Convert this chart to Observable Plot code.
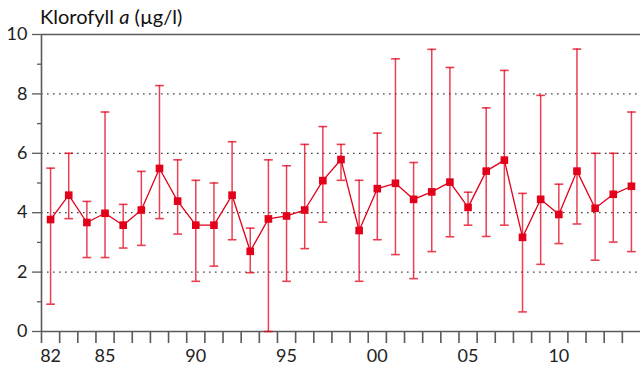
<!DOCTYPE html>
<html>
<head>
<meta charset="utf-8">
<script src="https://cdn.jsdelivr.net/npm/d3@7"></script>
<script src="https://cdn.jsdelivr.net/npm/@observablehq/plot@0.6"></script>
<style>
  html, body { margin: 0; padding: 0; background: #fff; }
  #chart svg { display: block; }
</style>
</head>
<body>
<div id="chart"></div>
<script>
const years = d3.range(1982, 2015);
const means = [3.77, 4.59, 3.67, 3.98, 3.58, 4.09, 5.49, 4.39, 3.58, 3.58,
               4.59, 2.70, 3.79, 3.89, 4.09, 5.08, 5.79, 3.40, 4.81, 4.99,
               4.45, 4.70, 5.03, 4.18, 5.40, 5.77, 3.17, 4.45, 3.94, 5.40,
               4.15, 4.62, 4.89];
const upper = [5.50, 6.00, 4.38, 7.39, 4.28, 5.39, 8.28, 5.78, 5.09, 5.00,
               6.39, 3.48, 5.78, 5.58, 6.30, 6.90, 6.30, 5.09, 6.68, 9.18,
               5.69, 9.50, 8.89, 4.69, 7.53, 8.79, 4.65, 7.95, 4.96, 9.51,
               6.00, 6.00, 7.39];
const lower = [0.92, 3.80, 2.49, 2.49, 2.81, 2.90, 3.80, 3.28, 1.69, 2.20,
               3.09, 1.98, 0.00, 1.69, 2.79, 3.68, 5.09, 1.69, 3.09, 2.59,
               1.78, 2.69, 3.19, 3.58, 3.20, 3.58, 0.66, 2.26, 2.96, 3.62,
               2.40, 3.01, 2.69];
const labelYears = [1982, 1985, 1990, 1995, 2000, 2005, 2010];
const yMajor = [0, 2, 4, 6, 8, 10];
const yMinor = [1, 3, 5, 7, 9];
const gridValues = [2, 4, 6, 8];
const titleMain = "Klorofyll ";
const titleItalic = "a";
const titleUnit = " (µg/l)";

const data = years.map((year, i) => ({year, mean: means[i], hi: upper[i], lo: lower[i]}));
const boundaries = d3.range(1981.5, 2014.5, 1);

const red = "#e2001a";
const axisColor = "#5a5a5a";
const noLabel = () => "";

const chart = Plot.plot({
  width: 640,
  height: 372,
  marginLeft: 41,
  marginRight: 0,
  marginTop: 34,
  marginBottom: 41,
  style: {fontFamily: "Lato, 'Open Sans', sans-serif", fontSize: "18px", color: "#222", background: "#fff"},
  x: {domain: [1981.5, 2014.5]},
  y: {domain: [0, 10]},
  marks: [
    Plot.ruleY(gridValues, {stroke: "#444", strokeWidth: 1.3, strokeDasharray: "1.6,4.4"}),
    Plot.ruleY([0, 10], {stroke: axisColor, strokeWidth: 1.6}),
    Plot.ruleX([1981.5], {stroke: axisColor, strokeWidth: 1.6}),
    Plot.axisY({ticks: yMinor, tickSize: 4, tickFormat: noLabel, stroke: axisColor, strokeWidth: 1.3, label: null}),
    Plot.axisY({ticks: yMajor, tickSize: 9, tickPadding: 5, tickFormat: d => String(d), stroke: axisColor, strokeWidth: 1.3, label: null}),
    Plot.axisX({ticks: boundaries, tickSize: 12, tickFormat: noLabel, stroke: axisColor, strokeWidth: 1.6, label: null}),
    Plot.axisX({ticks: labelYears, tickSize: 0, tickPadding: 18, tickFormat: d => String(d % 100).padStart(2, "0"), label: null}),
    Plot.ruleX(data, {x: "year", y1: "lo", y2: "hi", stroke: red, strokeOpacity: 0.75, strokeWidth: 1.5}),
    Plot.link(data, {x1: d => d.year - 0.24, x2: d => d.year + 0.24, y1: "hi", y2: "hi", stroke: red, strokeOpacity: 0.75, strokeWidth: 1.6}),
    Plot.link(data, {x1: d => d.year - 0.24, x2: d => d.year + 0.24, y1: "lo", y2: "lo", stroke: red, strokeOpacity: 0.75, strokeWidth: 1.6}),
    Plot.line(data, {x: "year", y: "mean", stroke: red, strokeWidth: 1.3}),
    Plot.dot(data, {x: "year", y: "mean", symbol: "square", r: 4.3, fill: red, stroke: "none"})
  ]
});

const svg = d3.select(chart);
const title = svg.append("text")
  .attr("x", 40)
  .attr("y", 24)
  .attr("fill", "#111")
  .attr("text-anchor", "start")
  .style("font-family", "Lato, 'Open Sans', sans-serif")
  .style("font-size", "20px");
title.append("tspan").text(titleMain);
title.append("tspan").style("font-style", "italic").text(titleItalic);
title.append("tspan").text(titleUnit);

document.getElementById("chart").appendChild(chart);
</script>
</body>
</html>
